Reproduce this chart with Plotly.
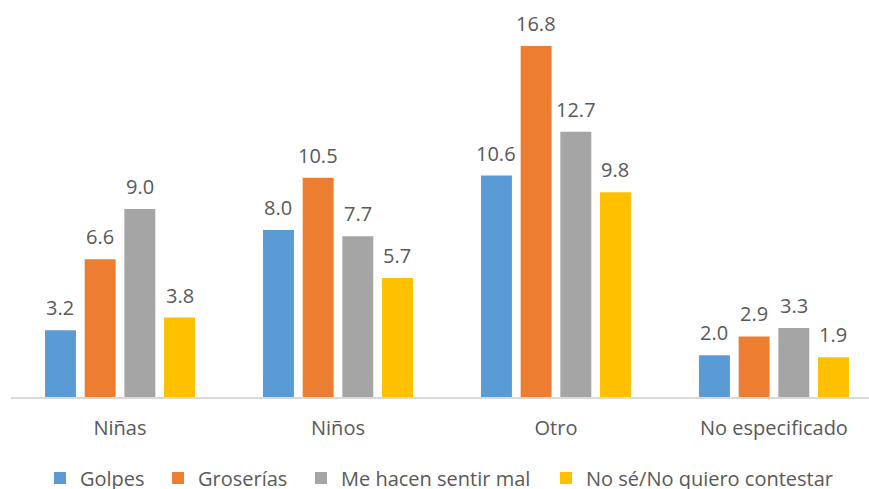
import plotly.graph_objects as go

categories = ["Niñas", "Niños", "Otro", "No especificado"]
series_names = ["Golpes", "Groserías", "Me hacen sentir mal", "No sé/No quiero contestar"]
golpes = [3.2, 8.0, 10.6, 2.0]
groserias = [6.6, 10.5, 16.8, 2.9]
sentir_mal = [9.0, 7.7, 12.7, 3.3]
no_se = [3.8, 5.7, 9.8, 1.9]
colors = ["#5B9BD5", "#ED7D31", "#A5A5A5", "#FFC000"]

font_family = "Open Sans, Liberation Sans, sans-serif"
text_color = "#595959"

W, H = 869, 489
ML, MR, MT, MB = 11, 0, 21, 92
x_range = [-0.5, 3.436]
bargap, bargroupgap = 0.272, 0.22
cat_px = (W - ML - MR) / (x_range[1] - x_range[0])
slot_px = cat_px * (1 - bargap) / 4
legend_left_px = [40, 158, 301, 546]
legend_ids = ["legend", "legend2", "legend3", "legend4"]

fig = go.Figure()
all_series = [golpes, groserias, sentir_mal, no_se]
for i, (name, vals, col) in enumerate(zip(series_names, all_series, colors)):
    fig.add_trace(go.Bar(
        x=categories, y=vals, name=name,
        marker=dict(color=col, line=dict(width=0)),
        cliponaxis=False, legend=legend_ids[i],
    ))
    for c, v in zip(categories, vals):
        fig.add_annotation(
            x=c, y=v, xref="x", yref="y", text=f"{v:.1f}", showarrow=False,
            xshift=(i - 1.5) * slot_px, yshift=7, yanchor="bottom",
            font=dict(size=20, color=text_color, family=font_family),
        )

legend_common = dict(orientation="h", xref="container", yref="container",
                     y=1 - 478 / H, xanchor="left", yanchor="middle",
                     font=dict(size=20, color=text_color), itemwidth=30,
                     bgcolor="rgba(0,0,0,0)")
legend_layout = {lid: dict(legend_common, x=lx / W) for lid, lx in zip(legend_ids, legend_left_px)}

fig.update_layout(
    width=W, height=H,
    margin=dict(l=ML, r=MR, t=MT, b=MB),
    paper_bgcolor="white", plot_bgcolor="white",
    barmode="group", bargap=bargap, bargroupgap=bargroupgap,
    font=dict(family=font_family, size=20, color=text_color),
    showlegend=True,
    xaxis=dict(range=x_range, showline=True, linecolor="#D9D9D9", linewidth=1.5,
               showgrid=False, ticks="", ticklabelstandoff=12,
               tickfont=dict(size=20, color=text_color)),
    yaxis=dict(range=[0, 18], visible=False, showgrid=False, zeroline=False),
    **legend_layout,
)

fig.write_html("out.html", config={"displayModeBar": False},
               post_script="document.body.style.margin='0';document.body.style.overflow='hidden';")
